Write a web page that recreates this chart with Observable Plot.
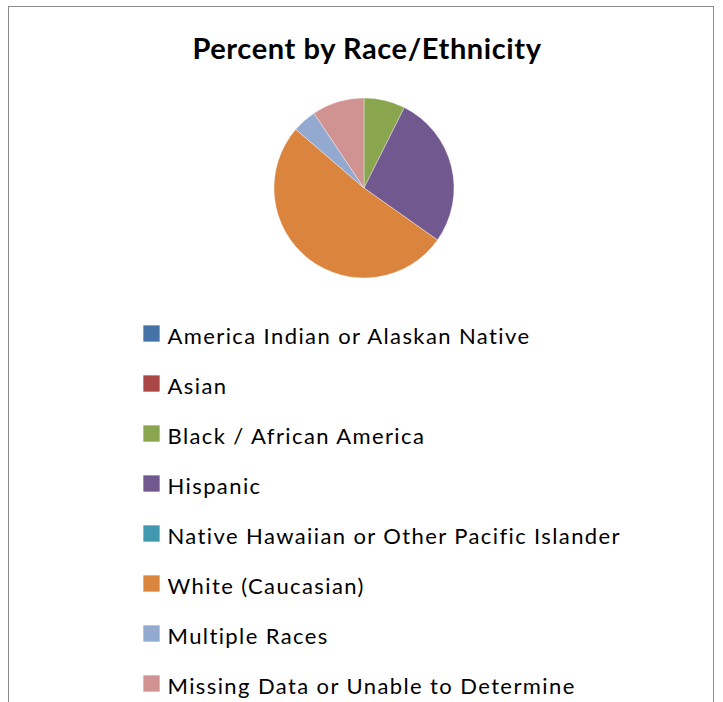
<!DOCTYPE html>
<html><head><meta charset="utf-8">
<script src="https://cdn.jsdelivr.net/npm/d3@7"></script>
<script src="https://cdn.jsdelivr.net/npm/@observablehq/plot@0.6"></script>
<style>
html,body{margin:0;padding:0;background:#fff;}
#frame{position:absolute;left:8px;top:6px;width:706px;height:720px;border:1px solid #8a8a8a;box-sizing:border-box;}
#chart{position:absolute;left:0;top:0;}
.legend-label text{letter-spacing:1.4px;}
.chart-title text{letter-spacing:0.6px;}
</style></head><body>
<div id="frame"></div>
<div id="chart"></div>
<script>
const title = "Percent by Race/Ethnicity";
const categories = [
  "America Indian or Alaskan Native",
  "Asian",
  "Black / African America",
  "Hispanic",
  "Native Hawaiian or Other Pacific Islander",
  "White (Caucasian)",
  "Multiple Races",
  "Missing Data or Unable to Determine"
];
const percents = [0, 0, 7.4, 27.4, 0, 51.5, 4.3, 9.4];
const colors = ["#4572A7", "#AA4643", "#89A54E", "#71588F", "#4198AF", "#DB843D", "#93A9CF", "#D19392"];

const rows = categories.map((c, i) => ({category: c, value: percents[i]}));

function pieMark(index, scales, values, dimensions) {
  const arcs = d3.pie().sort(null).value(d => d.value)(rows);
  const arc = d3.arc().innerRadius(0).outerRadius(90);
  const g = d3.create("svg:g").attr("transform", "translate(364,188)");
  g.selectAll("path").data(arcs.filter(a => a.data.value > 0)).join("path")
    .attr("d", arc)
    .attr("fill", a => scales.color(a.data.category))
    .attr("stroke", "#ffffff")
    .attr("stroke-opacity", 0.6)
    .attr("stroke-width", 0.6);
  return g.node();
}

const chart = Plot.plot({
  width: 723,
  height: 702,
  margin: 0,
  style: {background: "transparent", fontFamily: "Lato, sans-serif"},
  y: {type: "point", domain: categories, range: [335, 687], padding: 0, axis: null},
  color: {type: "ordinal", domain: categories, range: colors},
  marks: [
    Plot.text([title], {frameAnchor: "top", dx: 5, dy: 38, text: d => d, fontSize: 29, fontWeight: "bold", fill: "#000", className: "chart-title"}),
    pieMark,
    Plot.dot(rows, {y: "category", frameAnchor: "left", dx: 151, dy: -3, symbol: "square", r: 9.2, fill: "category", stroke: null}),
    Plot.text(rows, {y: "category", text: "category", frameAnchor: "left", dx: 167, textAnchor: "start", fontSize: 22, fill: "#000", className: "legend-label"})
  ]
});
document.getElementById("chart").appendChild(chart);
</script>
</body></html>
